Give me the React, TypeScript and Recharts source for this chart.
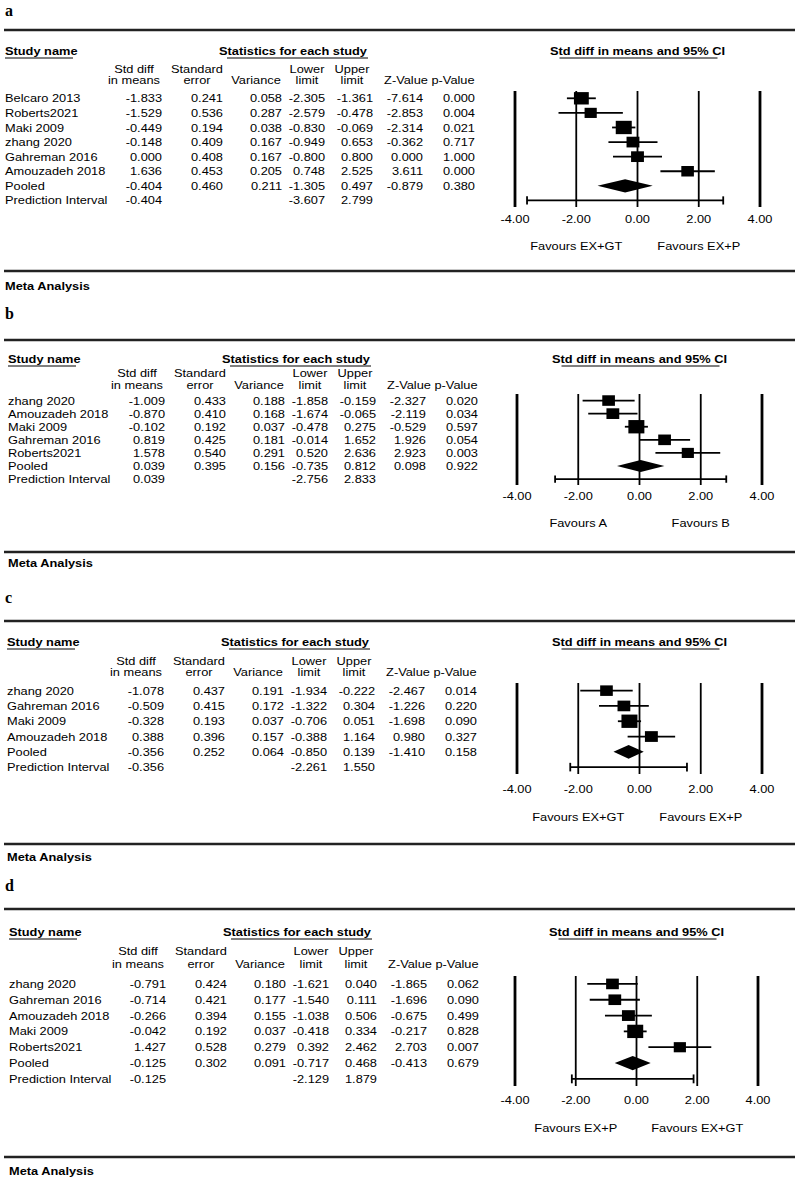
import React from 'react';
import { ScatterChart, Scatter, XAxis, YAxis, ReferenceLine, ReferenceArea } from 'recharts';

/* ── Shared labels ────────────────────────────────── */
const X_TICKS = [-4, -2, 0, 2, 4];
const COL_HEAD_1 = ['Std diff', 'Standard', '', 'Lower', 'Upper', '', ''];
const COL_HEAD_2 = ['in means', 'error', 'Variance', 'limit', 'limit', 'Z-Value', 'p-Value'];

/* ── Panel a ──────────────────────────────────────── */
const namesA = ['Belcaro 2013', 'Roberts2021', 'Maki 2009', 'zhang 2020', 'Gahreman 2016', 'Amouzadeh 2018', 'Pooled', 'Prediction Interval'];
const effA = [-1.833, -1.529, -0.449, -0.148, 0.0, 1.636, -0.404, -0.404];
const seA = [0.241, 0.536, 0.194, 0.409, 0.408, 0.453, 0.46, null];
const varA = [0.058, 0.287, 0.038, 0.167, 0.167, 0.205, 0.211, null];
const lowA = [-2.305, -2.579, -0.83, -0.949, -0.8, 0.748, -1.305, -3.607];
const upA = [-1.361, -0.478, -0.069, 0.653, 0.8, 2.525, 0.497, 2.799];
const zA = [-7.614, -2.853, -2.314, -0.362, 0.0, 3.611, -0.879, null];
const pA = [0.0, 0.004, 0.021, 0.717, 1.0, 0.0, 0.38, null];
const favA = ['Favours EX+GT', 'Favours EX+P'];

/* ── Panel b ──────────────────────────────────────── */
const namesB = ['zhang 2020', 'Amouzadeh 2018', 'Maki 2009', 'Gahreman 2016', 'Roberts2021', 'Pooled', 'Prediction Interval'];
const effB = [-1.009, -0.87, -0.102, 0.819, 1.578, 0.039, 0.039];
const seB = [0.433, 0.41, 0.192, 0.425, 0.54, 0.395, null];
const varB = [0.188, 0.168, 0.037, 0.181, 0.291, 0.156, null];
const lowB = [-1.858, -1.674, -0.478, -0.014, 0.52, -0.735, -2.756];
const upB = [-0.159, -0.065, 0.275, 1.652, 2.636, 0.812, 2.833];
const zB = [-2.327, -2.119, -0.529, 1.926, 2.923, 0.098, null];
const pB = [0.02, 0.034, 0.597, 0.054, 0.003, 0.922, null];
const favB = ['Favours A', 'Favours B'];

/* ── Panel c ──────────────────────────────────────── */
const namesC = ['zhang 2020', 'Gahreman 2016', 'Maki 2009', 'Amouzadeh 2018', 'Pooled', 'Prediction Interval'];
const effC = [-1.078, -0.509, -0.328, 0.388, -0.356, -0.356];
const seC = [0.437, 0.415, 0.193, 0.396, 0.252, null];
const varC = [0.191, 0.172, 0.037, 0.157, 0.064, null];
const lowC = [-1.934, -1.322, -0.706, -0.388, -0.85, -2.261];
const upC = [-0.222, 0.304, 0.051, 1.164, 0.139, 1.55];
const zC = [-2.467, -1.226, -1.698, 0.98, -1.41, null];
const pC = [0.014, 0.22, 0.09, 0.327, 0.158, null];
const favC = ['Favours EX+GT', 'Favours EX+P'];

/* ── Panel d ──────────────────────────────────────── */
const namesD = ['zhang 2020', 'Gahreman 2016', 'Amouzadeh 2018', 'Maki 2009', 'Roberts2021', 'Pooled', 'Prediction Interval'];
const effD = [-0.791, -0.714, -0.266, -0.042, 1.427, -0.125, -0.125];
const seD = [0.424, 0.421, 0.394, 0.192, 0.528, 0.302, null];
const varD = [0.18, 0.177, 0.155, 0.037, 0.279, 0.091, null];
const lowD = [-1.621, -1.54, -1.038, -0.418, 0.392, -0.717, -2.129];
const upD = [0.04, 0.111, 0.506, 0.334, 2.462, 0.468, 1.879];
const zD = [-1.865, -1.696, -0.675, -0.217, 2.703, -0.413, null];
const pD = [0.062, 0.09, 0.499, 0.828, 0.007, 0.679, null];
const favD = ['Favours EX+P', 'Favours EX+GT'];

/* ── Layout ───────────────────────────────────────── */
const SX = 1.22;
const FONT = "'Liberation Sans', Arial, Helvetica, sans-serif";
const HEAD_CX = [136, 199, 258, 309, 354, 408, 455];
const VAL_RX = [164, 225, 284, 327, 375, 425, 477];

const PANELS = [
    { letter: 'a', names: namesA, eff: effA, se: seA, vr: varA, low: lowA, up: upA, z: zA, p: pA, fav: favA,
      labelY: 10, topY: 30, headY: 51, ch1: 69, ch2: 80, plotTop: 91, plotBottom: 207, left: 515, right: 760,
      tickGap: 12, favGap: 39, botY: 271, metaY: 286, dx: -2 },
    { letter: 'b', names: namesB, eff: effB, se: seB, vr: varB, low: lowB, up: upB, z: zB, p: pB, fav: favB,
      labelY: 313, topY: 340, headY: 359, ch1: 373, ch2: 385, plotTop: 394, plotBottom: 485, left: 517, right: 762,
      tickGap: 11, favGap: 38, botY: 552, metaY: 563, dx: 1 },
    { letter: 'c', names: namesC, eff: effC, se: seC, vr: varC, low: lowC, up: upC, z: zC, p: pC, fav: favC,
      labelY: 597, topY: 621, headY: 642, ch1: 661, ch2: 672, plotTop: 683, plotBottom: 774, left: 517, right: 762,
      tickGap: 15, favGap: 43, botY: 844, metaY: 857, dx: 0 },
    { letter: 'd', names: namesD, eff: effD, se: seD, vr: varD, low: lowD, up: upD, z: zD, p: pD, fav: favD,
      labelY: 885, topY: 909, headY: 932, ch1: 951, ch2: 964, plotTop: 976, plotBottom: 1086, left: 515, right: 758,
      tickGap: 14, favGap: 42, botY: 1157, metaY: 1171, dx: 2 },
];

const fmt = (v: number | null) => (v == null ? '' : v.toFixed(3));

/* text drawn slightly wider than tall, like the scanned original */
const Txt = ({ x, y, anchor = 'start', bold = false, children }: any) => (
    <text
        transform={`translate(${x} ${y}) scale(${SX} 1)`}
        textAnchor={anchor}
        dominantBaseline="central"
        fontFamily={FONT}
        fontSize={10.5}
        fontWeight={bold ? 700 : 400}
        fill="#000"
    >
        {children}
    </text>
);

/* ── Static headers / rules ───────────────────────── */
const PanelFrame = ({ p }: any) => {
    const cx = (p.left + p.right) / 2;
    const dx = p.dx;
    return (
        <g>
            <text x={5} y={p.labelY} dominantBaseline="central" fontFamily="'Liberation Serif', 'Times New Roman', serif"
                fontSize={16} fontWeight={700}>{p.letter}</text>
            <line x1={4} x2={795} y1={p.topY} y2={p.topY} stroke="#222" strokeWidth={2.5} />
            <Txt x={7 + dx} y={p.headY} bold>Study name</Txt>
            <line x1={7 + dx} x2={75 + dx} y1={p.headY + 7} y2={p.headY + 7} stroke="#000" strokeWidth={1} />
            <Txt x={295 + dx} y={p.headY} anchor="middle" bold>Statistics for each study</Txt>
            <line x1={229 + dx} x2={370 + dx} y1={p.headY + 7} y2={p.headY + 7} stroke="#000" strokeWidth={1} />
            <Txt x={cx} y={p.headY} anchor="middle" bold>Std diff in means and 95% CI</Txt>
            <line x1={cx - 78} x2={cx + 80} y1={p.headY + 7} y2={p.headY + 7} stroke="#000" strokeWidth={1} />
            {HEAD_CX.map((hx, j) => (
                <g key={j}>
                    {COL_HEAD_1[j] && <Txt x={hx + dx} y={p.ch1} anchor="middle">{COL_HEAD_1[j]}</Txt>}
                    <Txt x={hx + dx} y={p.ch2} anchor="middle">{COL_HEAD_2[j]}</Txt>
                </g>
            ))}
            <line x1={4} x2={795} y1={p.botY} y2={p.botY} stroke="#222" strokeWidth={2.5} />
            <Txt x={7 + dx} y={p.metaY} bold>Meta Analysis</Txt>
        </g>
    );
};

/* ── Forest plot + table rows ─────────────────────── */
const ForestPanel = ({ p }: any) => {
    const n = p.names.length;
    const plotH = p.plotBottom - p.plotTop;
    const axisH = p.favGap + 14;
    const pooled = n - 2;
    const pred = n - 1;
    const studies = p.names.slice(0, pooled).map((_: string, i: number) => ({ x: p.eff[i], y: i, v: p.vr[i] }));
    const minVar = Math.min(...studies.map((s: any) => s.v));
    const rowIdx = p.names.map((_: string, i: number) => i);

    const rowTick = (t: any) => {
        const i = t.payload.value;
        const vals = [p.eff[i], p.se[i], p.vr[i], p.low[i], p.up[i], p.z[i], p.p[i]];
        return (
            <g>
                <Txt x={7 + p.dx} y={t.y}>{p.names[i]}</Txt>
                {vals.map((v, j) => (v == null ? null :
                    <Txt key={j} x={VAL_RX[j] + p.dx} y={t.y} anchor="end">{fmt(v)}</Txt>
                ))}
            </g>
        );
    };

    const xTick = (t: any) => {
        const v = t.payload.value;
        return (
            <g>
                <Txt x={t.x} y={plotH + p.tickGap} anchor="middle">{v.toFixed(2)}</Txt>
                {v === -2 && <Txt x={t.x} y={plotH + p.favGap} anchor="middle">{p.fav[0]}</Txt>}
                {v === 2 && <Txt x={t.x} y={plotH + p.favGap} anchor="middle">{p.fav[1]}</Txt>}
            </g>
        );
    };

    const square = (s: any) => {
        const w = 10 + 6 * Math.sqrt(minVar / s.payload.v);
        const h = w / 1.2;
        return <rect x={s.cx - w / 2} y={s.cy - h / 2} width={w} height={h} fill="#000" />;
    };

    const diamond = (r: any) => {
        const x0 = Math.min(r.x, r.x + r.width);
        const w = Math.abs(r.width);
        const y0 = Math.min(r.y, r.y + r.height);
        const h = Math.abs(r.height);
        const xm = x0 + (w * (p.eff[pooled] - p.low[pooled])) / (p.up[pooled] - p.low[pooled]);
        return <polygon points={`${x0},${y0 + h / 2} ${xm},${y0} ${x0 + w},${y0 + h / 2} ${xm},${y0 + h}`} fill="#000" />;
    };

    return (
        <div style={{ position: 'absolute', left: 0, top: p.plotTop }}>
            <ScatterChart width={800} height={plotH + axisH} margin={{ top: 0, right: 800 - p.right, bottom: 0, left: 0 }}>
                <XAxis
                    type="number"
                    dataKey="x"
                    domain={[-4, 4]}
                    allowDataOverflow
                    ticks={X_TICKS}
                    interval={0}
                    axisLine={false}
                    tickLine={false}
                    tickSize={0}
                    tickMargin={0}
                    height={axisH}
                    tick={xTick}
                />
                <YAxis
                    type="number"
                    dataKey="y"
                    domain={[-0.5, n - 0.55]}
                    allowDataOverflow
                    reversed
                    ticks={rowIdx}
                    interval={0}
                    width={p.left}
                    axisLine={false}
                    tickLine={false}
                    tick={rowTick}
                />
                {X_TICKS.map((v) => (
                    <ReferenceLine key={v} x={v} stroke="#000" strokeWidth={Math.abs(v) === 4 ? 2.8 : 1.8} />
                ))}
                {studies.map((s: any) => (
                    <ReferenceLine key={'ci' + s.y} segment={[{ x: p.low[s.y], y: s.y }, { x: p.up[s.y], y: s.y }]}
                        stroke="#000" strokeWidth={1.8} />
                ))}
                <ReferenceLine segment={[{ x: p.low[pred], y: pred }, { x: p.up[pred], y: pred }]} stroke="#000" strokeWidth={1.8} />
                <ReferenceLine segment={[{ x: p.low[pred], y: pred - 0.28 }, { x: p.low[pred], y: pred + 0.28 }]} stroke="#000" strokeWidth={1.8} />
                <ReferenceLine segment={[{ x: p.up[pred], y: pred - 0.28 }, { x: p.up[pred], y: pred + 0.28 }]} stroke="#000" strokeWidth={1.8} />
                <ReferenceArea x1={p.low[pooled]} x2={p.up[pooled]} y1={pooled - 0.45} y2={pooled + 0.45} shape={diamond} />
                <Scatter data={studies} isAnimationActive={false} shape={square} />
            </ScatterChart>
        </div>
    );
};

const App = () => (
    <div style={{ position: 'absolute', left: 0, top: 0, width: 800, height: 1179, background: '#fff' }}>
        <svg width={800} height={1179} style={{ position: 'absolute', left: 0, top: 0 }}>
            {PANELS.map((p) => <PanelFrame key={p.letter} p={p} />)}
        </svg>
        {PANELS.map((p) => <ForestPanel key={p.letter} p={p} />)}
    </div>
);

export default App;
